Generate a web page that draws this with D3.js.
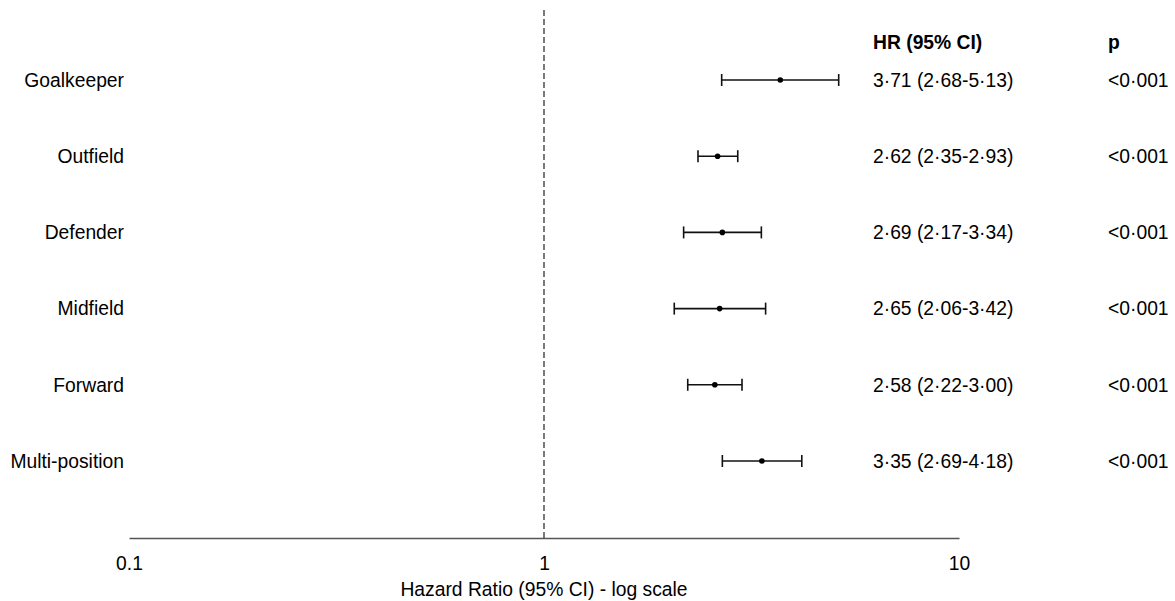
<!DOCTYPE html>
<html>
<head>
<meta charset="utf-8">
<script src="https://cdn.jsdelivr.net/npm/d3@7"></script>
<style>
  body { margin: 0; background: #fff; }
  text { font-family: "Liberation Sans", Arial, sans-serif; fill: #000; }
</style>
</head>
<body>
<div id="content"></div>
<script>
// datas
const groups = ["Goalkeeper", "Outfield", "Defender", "Midfield", "Forward", "Multi-position"];
const hr = [3.71, 2.62, 2.69, 2.65, 2.58, 3.35];
const lower = [2.68, 2.35, 2.17, 2.06, 2.22, 2.69];
const upper = [5.13, 2.93, 3.34, 3.42, 3.00, 4.18];
const hrText = ["3·71 (2·68-5·13)", "2·62 (2·35-2·93)", "2·69 (2·17-3·34)", "2·65 (2·06-3·42)", "2·58 (2·22-3·00)", "3·35 (2·69-4·18)"];
const pText = ["<0·001", "<0·001", "<0·001", "<0·001", "<0·001", "<0·001"];
const tickVals = [0.1, 1, 10];

const rows = groups.map((g, i) => ({g, hr: hr[i], lo: lower[i], hi: upper[i], t: hrText[i], p: pText[i]}));

// view
const w = 1175;
const h = 601;
const fs = "19.3px";

const svg = d3.select("#content")
            .append("svg")
            .attr("width", w)
            .attr("height", h);

const x = d3.scaleLog().domain([0.1, 10]).range([129, 959]);
const y = d3.scalePoint().domain(groups).range([80, 461]);

// axis
const axis = svg.append("g")
   .attr("transform", "translate(0,538)")
   .call(d3.axisBottom(x).tickValues(tickVals).tickSize(0).tickPadding(18).tickFormat(d3.format("")));
axis.select(".domain").attr("stroke", "#555").attr("stroke-width", 1.5);
axis.selectAll("text")
   .style("font-family", "'Liberation Sans', Arial, sans-serif")
   .style("font-size", fs)
   .attr("fill", "#000");

svg.append("text")
   .attr("x", x(1))
   .attr("y", 596)
   .attr("text-anchor", "middle")
   .style("font-size", fs)
   .text("Hazard Ratio (95% CI) - log scale");

// null line
svg.append("line")
   .attr("x1", x(1)).attr("x2", x(1))
   .attr("y1", 10).attr("y2", 538)
   .attr("stroke", "#222")
   .attr("stroke-width", 1.2)
   .attr("stroke-dasharray", "6,3");

// CI lines
const g = svg.selectAll("g.row")
   .data(rows)
   .enter()
   .append("g")
   .attr("class", "row");

g.append("line")
   .attr("x1", d => x(d.lo)).attr("x2", d => x(d.hi))
   .attr("y1", d => y(d.g)).attr("y2", d => y(d.g))
   .attr("stroke", "#111").attr("stroke-width", 1.6);

g.append("line")
   .attr("x1", d => x(d.lo)).attr("x2", d => x(d.lo))
   .attr("y1", d => y(d.g) - 6).attr("y2", d => y(d.g) + 6)
   .attr("stroke", "#111").attr("stroke-width", 1.6);

g.append("line")
   .attr("x1", d => x(d.hi)).attr("x2", d => x(d.hi))
   .attr("y1", d => y(d.g) - 6).attr("y2", d => y(d.g) + 6)
   .attr("stroke", "#111").attr("stroke-width", 1.6);

g.append("circle")
   .attr("cx", d => x(d.hr))
   .attr("cy", d => y(d.g))
   .attr("r", 2.8)
   .attr("fill", "#000");

// labels
g.append("text")
   .attr("x", 124)
   .attr("y", d => y(d.g))
   .attr("dy", "0.35em")
   .attr("text-anchor", "end")
   .style("font-size", fs)
   .text(d => d.g);

g.append("text")
   .attr("x", 873)
   .attr("y", d => y(d.g))
   .attr("dy", "0.35em")
   .style("font-size", fs)
   .text(d => d.t);

g.append("text")
   .attr("x", 1108)
   .attr("y", d => y(d.g))
   .attr("dy", "0.35em")
   .style("font-size", fs)
   .text(d => d.p);

// headers
svg.append("text")
   .attr("x", 873).attr("y", 42).attr("dy", "0.35em")
   .style("font-size", fs).style("font-weight", "bold")
   .text("HR (95% CI)");
svg.append("text")
   .attr("x", 1108).attr("y", 42).attr("dy", "0.35em")
   .style("font-size", fs).style("font-weight", "bold")
   .text("p");
</script>
</body>
</html>
